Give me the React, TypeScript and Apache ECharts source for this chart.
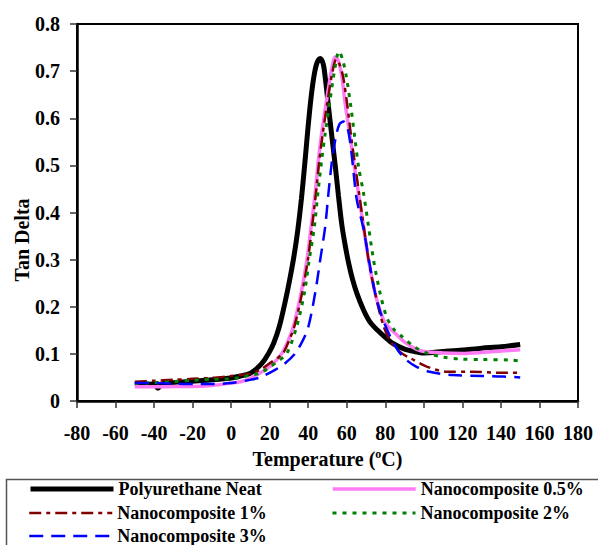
import React, { useEffect, useRef } from "react";
import * as echarts from "echarts";

const xTicks = { min: -80, max: 180, interval: 20 };
const yTicks = { min: 0, max: 0.8, interval: 0.1 };

const seriesNames = [
  "Polyurethane Neat",
  "Nanocomposite 0.5%",
  "Nanocomposite 1%",
  "Nanocomposite 2%",
  "Nanocomposite 3%",
];

const neatT = [-50, -40, -38, -36, -30, -20, -10, 0, 5, 10, 12.5, 16, 19.4, 22, 25, 28, 30.5, 32.5, 34.5, 36.5, 38.4, 40, 41.5, 43, 44.5, 46.2, 47.8, 49, 50.5, 52.3, 54, 55.7, 57.4, 59.2, 61, 63, 65.2, 68.7, 72, 76, 80, 84, 90, 95, 100, 110, 120, 130, 140, 150];
const neatV = [0.034, 0.036, 0.027, 0.036, 0.039, 0.042, 0.045, 0.049, 0.053, 0.059, 0.066, 0.08, 0.101, 0.122, 0.158, 0.21, 0.26, 0.305, 0.36, 0.43, 0.512, 0.585, 0.645, 0.69, 0.717, 0.727, 0.715, 0.68, 0.625, 0.56, 0.5, 0.435, 0.375, 0.33, 0.292, 0.258, 0.229, 0.193, 0.168, 0.15, 0.135, 0.122, 0.11, 0.105, 0.102, 0.105, 0.108, 0.112, 0.115, 0.12];

const nc05T = [-50, -40, -30, -20, -10, 0, 5, 10, 17.6, 22, 26.3, 29.5, 32.3, 36.3, 39.3, 41.5, 43.6, 45.3, 47.2, 49.6, 52, 54, 55.6, 57.4, 59.2, 61.8, 63.5, 66.1, 68.7, 71.3, 74.7, 77.5, 80, 86, 90, 96, 100, 110, 120, 130, 140, 150];
const nc05V = [0.03, 0.03, 0.031, 0.031, 0.033, 0.038, 0.041, 0.048, 0.066, 0.08, 0.101, 0.127, 0.158, 0.229, 0.299, 0.37, 0.441, 0.512, 0.575, 0.64, 0.7, 0.73, 0.722, 0.69, 0.63, 0.56, 0.51, 0.44, 0.37, 0.3, 0.229, 0.19, 0.165, 0.14, 0.125, 0.11, 0.105, 0.102, 0.101, 0.103, 0.106, 0.109];

const nc1T = [-50, -40, -30, -20, -10, 0, 5, 10, 15, 20, 26.8, 30, 32.8, 36.8, 39.8, 42, 44, 45.8, 47.7, 50.1, 52.5, 54.5, 56, 58, 60.2, 62.3, 64, 66.4, 68.8, 71.3, 74.7, 79, 83, 88.6, 93, 101.5, 112, 124, 140, 150];
const nc1V = [0.041, 0.043, 0.045, 0.047, 0.049, 0.053, 0.055, 0.058, 0.066, 0.08, 0.101, 0.128, 0.158, 0.229, 0.299, 0.37, 0.441, 0.512, 0.572, 0.638, 0.697, 0.725, 0.717, 0.69, 0.63, 0.56, 0.51, 0.44, 0.37, 0.3, 0.229, 0.16, 0.125, 0.101, 0.091, 0.073, 0.062, 0.062, 0.06, 0.06];

const nc2T = [-50, -40, -30, -20, -10, 0, 5, 10, 15, 20, 24.5, 28.9, 34, 38, 40.5, 43.2, 45, 47, 48.9, 51.2, 53.6, 56, 57.8, 59.7, 62.1, 64.3, 66.2, 68.7, 71.3, 73.9, 77.3, 80.8, 84.5, 88.6, 95, 101.5, 110, 119, 130, 145, 150];
const nc2V = [0.037, 0.039, 0.041, 0.044, 0.046, 0.047, 0.05, 0.055, 0.059, 0.072, 0.085, 0.101, 0.158, 0.229, 0.299, 0.37, 0.441, 0.512, 0.57, 0.635, 0.7, 0.742, 0.725, 0.69, 0.625, 0.554, 0.495, 0.441, 0.37, 0.299, 0.229, 0.177, 0.152, 0.137, 0.115, 0.102, 0.093, 0.089, 0.088, 0.087, 0.085];

const nc3T = [-50, -40, -30, -20, -10, 0, 10, 15, 22.8, 28, 33.2, 37, 40.1, 43.6, 46.2, 48.8, 50.5, 52.2, 54.3, 56.3, 58.3, 60.2, 61.8, 63.4, 65.2, 68.7, 71.5, 74.7, 77.3, 80, 83.4, 87, 91, 96, 103, 115, 130, 141, 150];
const nc3V = [0.038, 0.038, 0.037, 0.036, 0.036, 0.038, 0.045, 0.05, 0.066, 0.08, 0.101, 0.127, 0.158, 0.229, 0.299, 0.37, 0.441, 0.505, 0.56, 0.588, 0.593, 0.582, 0.548, 0.49, 0.427, 0.365, 0.299, 0.229, 0.19, 0.16, 0.13, 0.105, 0.087, 0.073, 0.062, 0.055, 0.053, 0.052, 0.05];

const FONT = "'Liberation Serif', 'Times New Roman', serif";

const pairs = (t: number[], v: number[]) => t.map((x, i) => [x, v[i]]);

const seriesStyles = [
  { color: "#000000", width: 5, type: "solid" as any },
  { color: "#ff7bf5", width: 3.5, type: "solid" as any },
  { color: "#800000", width: 2.5, type: [12, 5, 4, 5] as any },
  { color: "#008000", width: 3, type: [4, 6] as any },
  { color: "#0000ff", width: 2.5, type: [14, 8] as any },
];

const seriesData = [
  pairs(neatT, neatV),
  pairs(nc05T, nc05V),
  pairs(nc1T, nc1V),
  pairs(nc2T, nc2V),
  pairs(nc3T, nc3V),
];

const legendPos = [
  { left: 28, top: 480 },
  { left: 331, top: 480 },
  { left: 28, top: 504 },
  { left: 331, top: 504 },
  { left: 28, top: 527 },
];

export default function App() {
  const ref = useRef<HTMLDivElement>(null);
  useEffect(() => {
    document.body.style.margin = "0";
    if (!ref.current) return;
    const chart = echarts.init(ref.current, undefined, { renderer: "svg" });
    const option: any = {
      animation: false,
      backgroundColor: "#ffffff",
      grid: {
        left: 77,
        top: 24,
        right: 20,
        bottom: 144,
        show: true,
        borderColor: "#000",
        borderWidth: 2,
      },
      xAxis: {
        type: "value",
        min: xTicks.min,
        max: xTicks.max,
        interval: xTicks.interval,
        splitLine: { show: false },
        axisLine: { show: true, onZero: false, lineStyle: { color: "#000", width: 2.5 } },
        axisTick: { show: true, length: 7, lineStyle: { color: "#333", width: 1.5 } },
        axisLabel: {
          margin: 22,
          color: "#000",
          fontFamily: FONT,
          fontWeight: "bold",
          fontSize: 20,
        },
        name: "Temperature ({sup|o}C)",
        nameLocation: "middle",
        nameGap: 47,
        nameTextStyle: {
          color: "#000",
          fontFamily: FONT,
          fontWeight: "bold",
          fontSize: 20,
          rich: {
            sup: {
              fontFamily: FONT,
              fontWeight: "bold",
              fontSize: 12,
              verticalAlign: "top",
              padding: [0, 0, 10, 0],
              color: "#000",
            },
          },
        },
      },
      yAxis: {
        type: "value",
        min: yTicks.min,
        max: yTicks.max,
        interval: yTicks.interval,
        splitLine: { show: false },
        axisLine: { show: true, onZero: false, lineStyle: { color: "#000", width: 2.5 } },
        axisTick: { show: true, length: 7, lineStyle: { color: "#333", width: 1.5 } },
        axisLabel: {
          margin: 17,
          color: "#000",
          fontFamily: FONT,
          fontWeight: "bold",
          fontSize: 20,
          formatter: (v: number) => (v === 0 ? "0" : v.toFixed(1)),
        },
      },
      legend: seriesNames.map((n, i) => ({
        data: [n],
        left: legendPos[i].left,
        top: legendPos[i].top,
        itemWidth: 83,
        itemHeight: 14,
        padding: 0,
        selectedMode: false,
        itemStyle: { opacity: 0 },
        lineStyle: { width: seriesStyles[i].width },
        textStyle: {
          color: "#000",
          fontFamily: FONT,
          fontWeight: "bold",
          fontSize: 18,
        },
      })),
      graphic: [
        {
          type: "rect",
          left: 4,
          top: 477,
          shape: { x: 0, y: 0, width: 620, height: 100 },
          style: { fill: "none", stroke: "#555", lineWidth: 1.5 },
          silent: true,
          z: 0,
        },
        {
          type: "text",
          x: 22,
          y: 240,
          rotation: Math.PI / 2,
          style: {
            text: "Tan Delta",
            fill: "#000",
            font: `bold 20px ${FONT}`,
            align: "center",
            verticalAlign: "middle",
          },
        },
      ],
      series: seriesNames.map((n, i) => ({
        name: n,
        type: "line",
        data: seriesData[i],
        symbol: "none",
        smooth: 0.3,
        color: seriesStyles[i].color,
        lineStyle: {
          color: seriesStyles[i].color,
          width: seriesStyles[i].width,
          type: seriesStyles[i].type,
        },
        z: 2 + i,
      })),
    };
    chart.setOption(option);
    return () => chart.dispose();
  }, []);
  return <div ref={ref} style={{ width: 598, height: 545 }} />;
}
